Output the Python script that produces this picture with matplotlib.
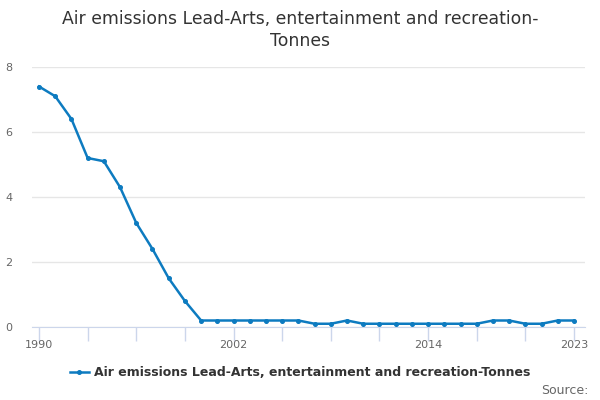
import matplotlib
matplotlib.use("Agg")
import matplotlib.pyplot as plt
from matplotlib.lines import Line2D

years = list(range(1990, 2024))
values = [7.4, 7.1, 6.4, 5.2, 5.1, 4.3, 3.2, 2.4, 1.5, 0.8,
          0.2, 0.2, 0.2, 0.2, 0.2, 0.2, 0.2, 0.1, 0.1, 0.2,
          0.1, 0.1, 0.1, 0.1, 0.1, 0.1, 0.1, 0.1, 0.2, 0.2,
          0.1, 0.1, 0.2, 0.2]
yticks = [0, 2, 4, 6, 8]
xlabel_years = [1990, 2002, 2014, 2023]
xtick_years = list(range(1990, 2024, 3))
series_name = "Air emissions Lead-Arts, entertainment and recreation-Tonnes"
title = "Air emissions Lead-Arts, entertainment and recreation-\nTonnes"

color = "#0d7bc0"
plt.rcParams['font.family'] = ['DejaVu Sans']

fig = plt.figure(figsize=(6, 4), dpi=100)
ax = fig.add_axes([32/600, 1-327/400, (585-32)/600, (327-67)/400])

ax.plot(years, values, color=color, linewidth=1.8, marker='o', markersize=2.6, zorder=3)

ax.set_xlim(1990 - 7/16.2, 2023 + 11/16.2)
ax.set_ylim(0, 8)

ax.set_yticks(yticks)
ax.set_yticklabels([str(v) for v in yticks], color="#666666", fontsize=8)
ax.tick_params(axis='y', length=0, pad=14)
ax.grid(axis='y', color="#e6e6e6", linewidth=1)
ax.set_axisbelow(True)

ax.set_xticks(xtick_years)
ax.set_xticklabels([str(y) if y in xlabel_years else "" for y in xtick_years],
                   color="#666666", fontsize=8)
ax.tick_params(axis='x', length=10, color="#ccd6eb", width=1, pad=-1)

for s in ['top', 'right', 'left']:
    ax.spines[s].set_visible(False)
ax.spines['bottom'].set_color("#ccd6eb")

fig.text(0.5, 1-30/400, title, ha='center', va='center', fontsize=12.4, color="#333333",
         linespacing=1.35)

handle = Line2D([0], [0], color=color, linewidth=1.8, marker='o', markersize=2.6)
fig.legend([handle], [series_name], loc='center', bbox_to_anchor=(0.5, 1-373/400),
           frameon=False, prop={'weight': 'bold', 'size': 9}, handlelength=1.5,
           handletextpad=0.4, labelcolor="#333333")

fig.text(589/600, 1-391/400, "Source:", ha='right', va='center', fontsize=9, color="#666666")

fig.savefig("out.png", dpi=100)
